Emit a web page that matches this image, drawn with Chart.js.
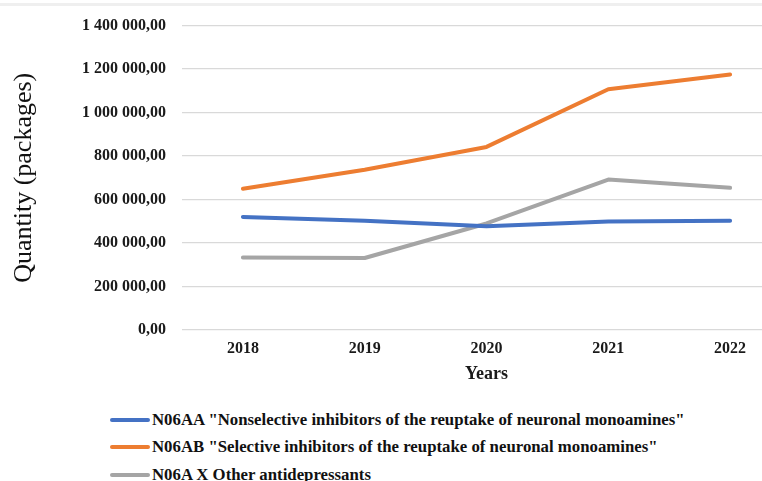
<!DOCTYPE html>
<html>
<head>
<meta charset="utf-8">
<script src="https://cdn.jsdelivr.net/npm/chart.js@4.4.0/dist/chart.umd.min.js"></script>
<style>
	html, body { margin: 0; padding: 0; background: #fff; overflow: hidden; width: 762px; height: 481px; }
	.top-band { position: absolute; left: 0; top: 3px; width: 762px; height: 3px; background: #efefef; }
	.chart-box { position: absolute; left: 0; top: 0; width: 791px; height: 385px; }
	.legend { position: absolute; left: 110px; top: 406px; font-family: "Liberation Serif", "Times New Roman", serif; font-weight: bold; font-size: 16.8px; color: #111; }
	.legend-item { display: flex; align-items: center; height: 27.5px; white-space: nowrap; }
	.legend-line { width: 40px; height: 4px; border-radius: 2px; margin-right: 2px; }
</style>
</head>
<body>
<div class="top-band"></div>
<div class="chart-box"><canvas id="chart"></canvas></div>
<div class="legend" id="legend"></div>
<script>
	const years = ['2018', '2019', '2020', '2021', '2022'];
	const nonselective = [520000, 502000, 477000, 499000, 502000];
	const selective = [650000, 737000, 842000, 1107000, 1175000];
	const otherAntidepressants = [333000, 331000, 490000, 692000, 654000];
	const seriesNames = [
		'N06AA "Nonselective inhibitors of the reuptake of neuronal monoamines"',
		'N06AB "Selective inhibitors of the reuptake of neuronal monoamines"',
		'N06A X Other antidepressants'
	];
	const seriesColors = ['#4472C4', '#ED7D31', '#A5A5A5'];
	const yTickLabels = ['0,00', '200 000,00', '400 000,00', '600 000,00', '800 000,00', '1 000 000,00', '1 200 000,00', '1 400 000,00'];

	const serif = '"Liberation Serif", "Times New Roman", serif';
	const seriesData = [nonselective, selective, otherAntidepressants];

	new Chart(document.getElementById('chart'), {
		type: 'line',
		data: {
			labels: years,
			datasets: seriesData.map((d, i) => ({
				label: seriesNames[i],
				data: d,
				borderColor: seriesColors[i],
				backgroundColor: seriesColors[i],
				borderWidth: 4,
				borderCapStyle: 'round',
				borderJoinStyle: 'round',
				pointRadius: 0,
				tension: 0
			}))
		},
		options: {
			responsive: true,
			maintainAspectRatio: false,
			animation: false,
			layout: { padding: { top: 24, right: 0, bottom: 0, left: 0 } },
			plugins: { legend: { display: false }, tooltip: { enabled: false } },
			scales: {
				x: {
					offset: true,
					grid: { display: false, drawTicks: false },
					border: { display: false },
					ticks: { color: '#1a1a1a', padding: 9, maxRotation: 0, font: { family: serif, size: 16, weight: 'bold' } },
					title: { display: true, text: 'Years', color: '#1a1a1a', padding: { top: 5, bottom: 0 }, font: { family: serif, size: 18, weight: 'bold' } },
					afterFit: (scale) => { scale.height = 55; }
				},
				y: {
					min: 0,
					max: 1400000,
					ticks: {
						stepSize: 200000,
						padding: 16,
						color: '#1a1a1a',
						font: { family: serif, size: 16, weight: 'bold' },
						callback: (v, i) => yTickLabels[i]
					},
					grid: { color: '#d9d9d9', lineWidth: 1.3, drawTicks: false },
					border: { display: false },
					title: { display: true, text: 'Quantity (packages)', color: '#111', padding: { top: 9, bottom: 0 }, font: { family: serif, size: 26 } },
					afterFit: (scale) => { scale.width = 182; }
				}
			}
		}
	});

	const legend = document.getElementById('legend');
	seriesNames.forEach((name, i) => {
		const item = document.createElement('div');
		item.className = 'legend-item';
		item.innerHTML = '<span class="legend-line" style="background:' + seriesColors[i] + '"></span><span></span>';
		item.lastChild.textContent = name;
		legend.appendChild(item);
	});
</script>
</body>
</html>
